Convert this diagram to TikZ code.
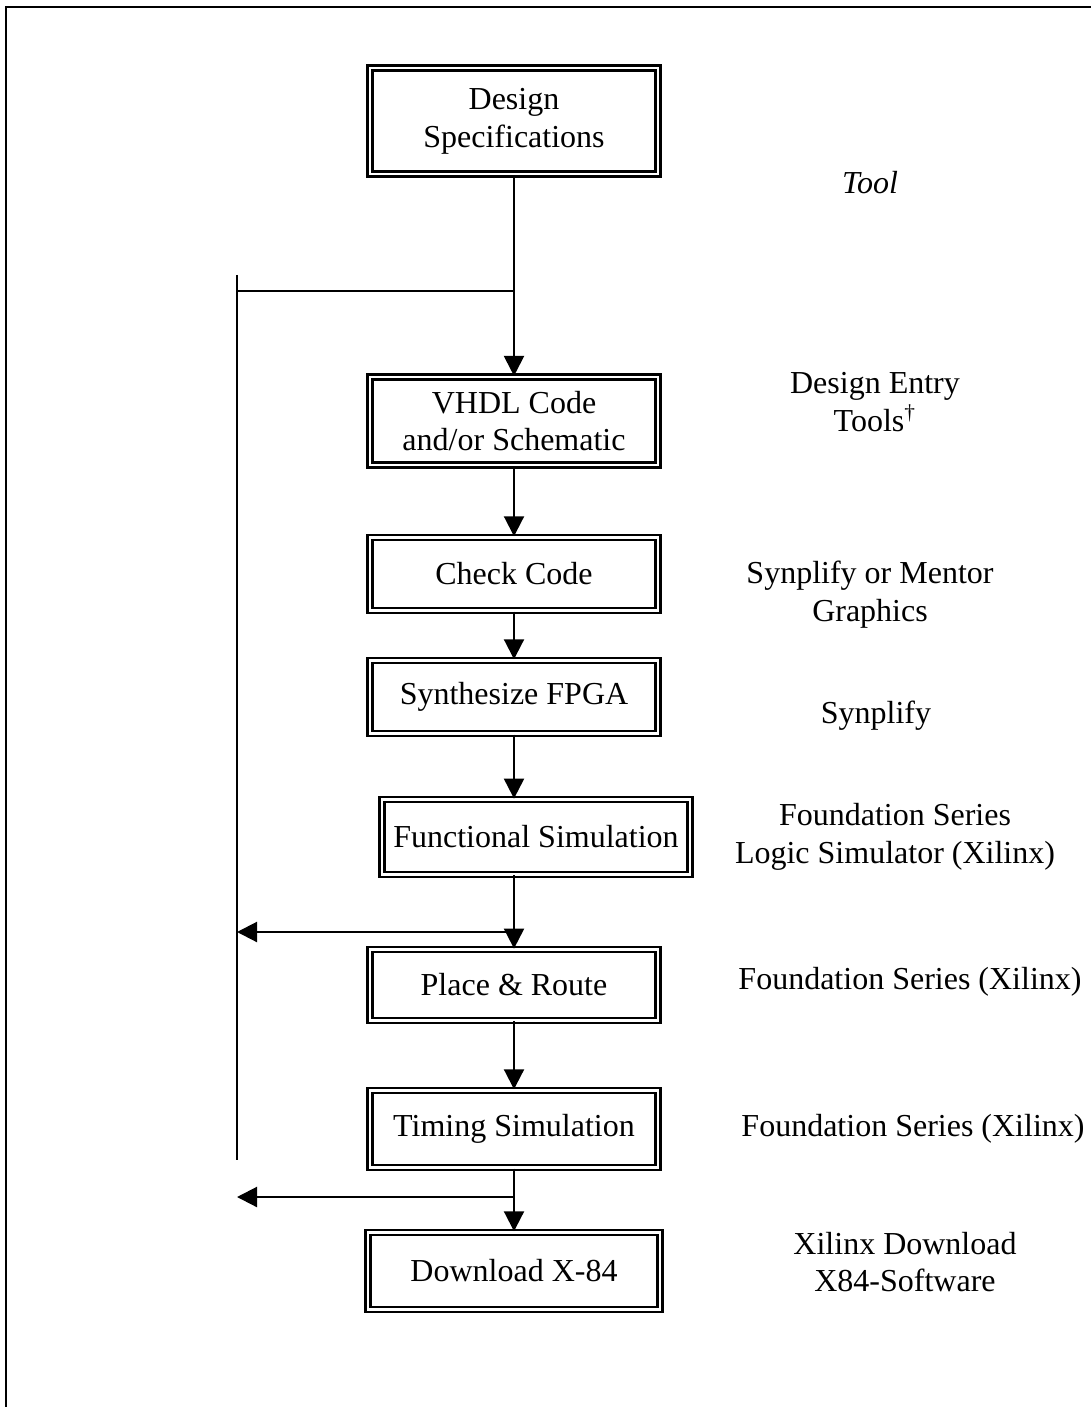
\documentclass[tikz,border=0pt]{standalone}
\usepackage{fontspec}
\setmainfont{Liberation Serif}
\usetikzlibrary{arrows.meta}

\tikzset{
  flowbox/.style={draw, double, double distance=1.1pt, line width=.8pt,
    minimum width=108pt, align=center, inner sep=0pt},
  toollabel/.style={align=center},
  flowarrow/.style={-{Triangle[width=7.5pt, length=7.5pt]}, line width=.8pt},
}

\begin{document}
\begin{tikzpicture}[x=0.375pt, y=-0.375pt,
    font=\fontsize{12}{14.2}\selectfont]
                \useasboundingbox (0,0) rectangle (1091,1407);
                % 外框 (只有上边和左边)
                \draw[line width=1pt] (6,1407) -- (6,7) -- (1091,7);

                % 流程方框
                \node[flowbox, minimum height=39.75pt] (spec) at (514,121) {Design\\Specifications};
                \node[flowbox, minimum height=33pt] (vhdl) at (514,421) {VHDL Code\\and/or Schematic};
                \node[flowbox, minimum height=27.5pt] (check) at (514,574) {Check Code};
                \node[flowbox, minimum height=27.5pt] (synth) at (514,697) {Synthesize FPGA};
                \node[flowbox, minimum height=28pt, minimum width=115.5pt] (func) at (536,837) {Functional Simulation};
                \node[flowbox, minimum height=26.5pt] (place) at (514,985) {Place \& Route};
                \node[flowbox, minimum height=29pt] (timing) at (514,1129) {Timing Simulation};
                \node[flowbox, minimum height=29pt, minimum width=109.5pt] (down) at (514,1271) {Download X-84};

                % 反馈线的端点
                \coordinate (J1) at (514,291);
                \coordinate (J2) at (514,932);
                \coordinate (J3) at (514,1197);
                \coordinate (L0) at (237,275);
                \coordinate (L1) at (237,1160);

                % 主流程箭头
                \draw[flowarrow] (spec.south) -- (vhdl.north);
                \draw[flowarrow] (vhdl.south) -- (check.north);
                \draw[flowarrow] (check.south) -- (synth.north);
                \draw[flowarrow] (synth.south) -- (synth.south |- func.north);
                \draw[flowarrow] (synth.south |- func.south) -- (place.north);
                \draw[flowarrow] (place.south) -- (timing.north);
                \draw[flowarrow] (timing.south) -- (down.north);

                % 左侧反馈线
                \draw[line width=.8pt] (L0) -- (L1);
                \draw[line width=.8pt] (J1) -- (J1 -| L0);
                \draw[flowarrow] (J2) -- (J2 -| L0);
                \draw[flowarrow] (J3) -- (J3 -| L0);

                % 右侧工具说明
                \node[toollabel] (tool) at (870,183) {\textit{Tool}};
                \node[toollabel] (t1) at (875,402) {Design Entry\\Tools\textsuperscript{†}};
                \node[toollabel] (t2) at (870,595) {Synplify or Mentor\\Graphics};
                \node[toollabel] (t3) at (876,716) {Synplify};
                \node[toollabel] (t4) at (895,837) {Foundation Series\\Logic Simulator (Xilinx)};
                \node[toollabel] (t5) at (910,982) {Foundation Series (Xilinx)};
                \node[toollabel] (t6) at (913,1129) {Foundation Series (Xilinx)};
                \node[toollabel] (t7) at (905,1262) {Xilinx Download\\X84-Software};
            \end{tikzpicture}
\end{document}
